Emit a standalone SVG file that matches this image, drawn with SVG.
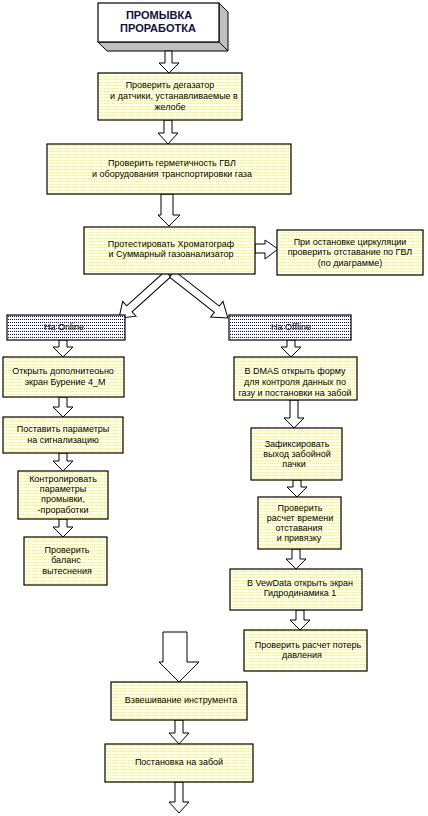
<svg xmlns="http://www.w3.org/2000/svg" width="428" height="816" viewBox="0 0 428 816">
<defs>
<pattern id="py" width="2" height="3" patternUnits="userSpaceOnUse"><rect width="2" height="3" fill="#fff"/><rect x="0" y="1" width="1" height="1" fill="#ffff00"/></pattern>
<pattern id="pb" width="2" height="3" patternUnits="userSpaceOnUse"><rect width="2" height="3" fill="#fff"/><rect x="0" y="1" width="1" height="1" fill="#000080"/></pattern>
</defs>
<style>
.y{fill:url(#py);stroke:#000;stroke-width:1.2}
.b{fill:url(#pb);stroke:#000;stroke-width:1.2}
.t{font-family:"Liberation Sans",Arial,sans-serif;font-size:9px;fill:#000;text-anchor:middle}
.h{font-family:"Liberation Sans",Arial,sans-serif;font-size:11px;font-weight:bold;fill:#10103a;text-anchor:middle}
.ar{fill:#fff;stroke:#000;stroke-width:1}
</style>
<rect width="428" height="816" fill="#fff"/>

<g id="title">
<polygon points="219,3 228,12 228,51 219,42" fill="#c0c0c0" stroke="#000"/>
<polygon points="98,42 219,42 228,51 107,51" fill="#c0c0c0" stroke="#000"/>
<rect x="98" y="3" width="121" height="39" fill="#fff" stroke="#000" stroke-width="1.2"/>
<text class="h" x="159" y="19">ПРОМЫВКА</text>
<text class="h" x="158" y="32">ПРОРАБОТКА</text>
</g>

<g id="connectors">
<polygon class="ar" points="165,51 172,51 172,63 179,63 169,73 159,63 165,63"/>
<polygon class="ar" points="164,120 172,120 172,133 178,133 168,144 158,133 164,133"/>
<polygon class="ar" points="161,194 173,194 173,215 180,215 169,226 158,215 161,215"/>
<polygon class="ar" points="255,244 265,244 265,240 278,249 265,259 265,253 255,253"/>
<g transform="translate(168,274) rotate(48)"><polygon class="ar" points="-4,0 4,0 4,52 10,52 0,66 -10,52 -4,52"/></g>
<g transform="translate(172,274) rotate(-51.8)"><polygon class="ar" points="-4,0 4,0 4,57 10,57 0,71 -10,57 -4,57"/></g>
<polygon class="ar" points="59,340 67,340 67,347 73,347 63,357 53,347 59,347"/>
<polygon class="ar" points="59,397 67,397 67,407 73,407 63,417 53,407 59,407"/>
<polygon class="ar" points="59,453 67,453 67,461 73,461 63,471 53,461 59,461"/>
<polygon class="ar" points="59,519 67,519 67,527 73,527 63,537 53,527 59,527"/>
<polygon class="ar" points="287,340 295,340 295,347 301,347 291,357 281,347 287,347"/>
<polygon class="ar" points="290,400 298,400 298,418 304,418 294,428 284,418 290,418"/>
<polygon class="ar" points="293,480 301,480 301,487 307,487 297,497 287,487 293,487"/>
<polygon class="ar" points="292,549 300,549 300,559 306,559 296,569 286,559 292,559"/>
<polygon class="ar" points="296,610 304,610 304,620 310,620 300,630 290,620 296,620"/>
<polygon class="ar" points="163,632 187,632 187,662 199,662 179,682 159,662 163,662"/>
<polygon class="ar" points="175,720 183,720 183,733 189,733 179,744 169,733 175,733"/>
<polygon class="ar" points="175,782 183,782 183,802 189,802 179,813 169,802 175,802"/>
</g>

<g id="n1"><rect class="y" x="98" y="73" width="144" height="47"/>
<text class="t" x="170" y="88">Проверить дегазатор</text>
<text class="t" x="174" y="99">и датчики, устанавливаемые в</text>
<text class="t" x="170" y="110">желобе</text></g>

<g id="n2"><rect class="y" x="47" y="144" width="244" height="50"/>
<text class="t" x="172" y="166">Проверить герметичность ГВЛ</text>
<text class="t" x="172" y="177">и оборудования транспортировки газа</text></g>

<g id="n3"><rect class="y" x="84" y="227" width="171" height="47"/>
<text class="t" x="171" y="247">Протестировать Хроматограф</text>
<text class="t" x="171" y="257">и Суммарный газоанализатор</text></g>

<g id="n4"><rect class="y" x="277" y="230" width="146" height="45"/>
<text class="t" x="350" y="245">При остановке циркуляции</text>
<text class="t" x="350" y="255">проверить отставание по ГВЛ</text>
<text class="t" x="350" y="266">(по диаграмме)</text></g>

<g id="online"><rect class="b" x="7" y="315" width="118" height="25"/>
<text class="t" x="64" y="330">На Online</text></g>

<g id="offline"><rect class="b" x="229" y="315" width="122" height="25"/>
<text class="t" x="291" y="330">На Offline</text></g>

<g id="n5"><rect class="y" x="3" y="357" width="121" height="40"/>
<text class="t" x="63" y="374">Открыть дополнитеоьно</text>
<text class="t" x="65" y="385">экран  Бурение 4_М</text></g>

<g id="n6"><rect class="y" x="234" y="357" width="123" height="43"/>
<text class="t" x="295" y="374">В DMAS открыть форму</text>
<text class="t" x="295" y="385">для контроля данных по</text>
<text class="t" x="295" y="396">газу и постановки на забой</text></g>

<g id="n7"><rect class="y" x="3" y="417" width="120" height="36"/>
<text class="t" x="63" y="432">Поставить  параметры</text>
<text class="t" x="63" y="443">на сигнализацию</text></g>

<g id="n8"><rect class="y" x="18" y="471" width="90" height="48"/>
<text class="t" x="63" y="482">Контролировать</text>
<text class="t" x="63" y="492">параметры</text>
<text class="t" x="63" y="502">промывки,</text>
<text class="t" x="63" y="513">-проработки</text></g>

<g id="n9"><rect class="y" x="24" y="537" width="83" height="48"/>
<text class="t" x="67" y="553">Проверить</text>
<text class="t" x="66" y="563">баланс</text>
<text class="t" x="67" y="574">вытеснения</text></g>

<g id="n10"><rect class="y" x="251" y="428" width="91" height="52"/>
<text class="t" x="297" y="447">Зафиксировать</text>
<text class="t" x="297" y="457">выход забойной</text>
<text class="t" x="294" y="467">пачки</text></g>

<g id="n11"><rect class="y" x="258" y="497" width="83" height="52"/>
<text class="t" x="300" y="511">Проверить</text>
<text class="t" x="300" y="521">расчет времени</text>
<text class="t" x="299" y="531">отставания</text>
<text class="t" x="299" y="541">и привязку</text></g>

<g id="n12"><rect class="y" x="230" y="569" width="132" height="41"/>
<text class="t" x="300" y="586">В VewData открыть экран</text>
<text class="t" x="300" y="596">Гидродинамика 1</text></g>

<g id="n13"><rect class="y" x="244" y="630" width="123" height="41"/>
<text class="t" x="308" y="648">Проверить расчет потерь</text>
<text class="t" x="302" y="658">давления</text></g>

<g id="n14"><rect class="y" x="111" y="682" width="136" height="38"/>
<text class="t" x="181" y="703">Взвешивание инструмента</text></g>

<g id="n15"><rect class="y" x="105" y="744" width="148" height="38"/>
<text class="t" x="179" y="765">Постановка на забой</text></g>
</svg>
